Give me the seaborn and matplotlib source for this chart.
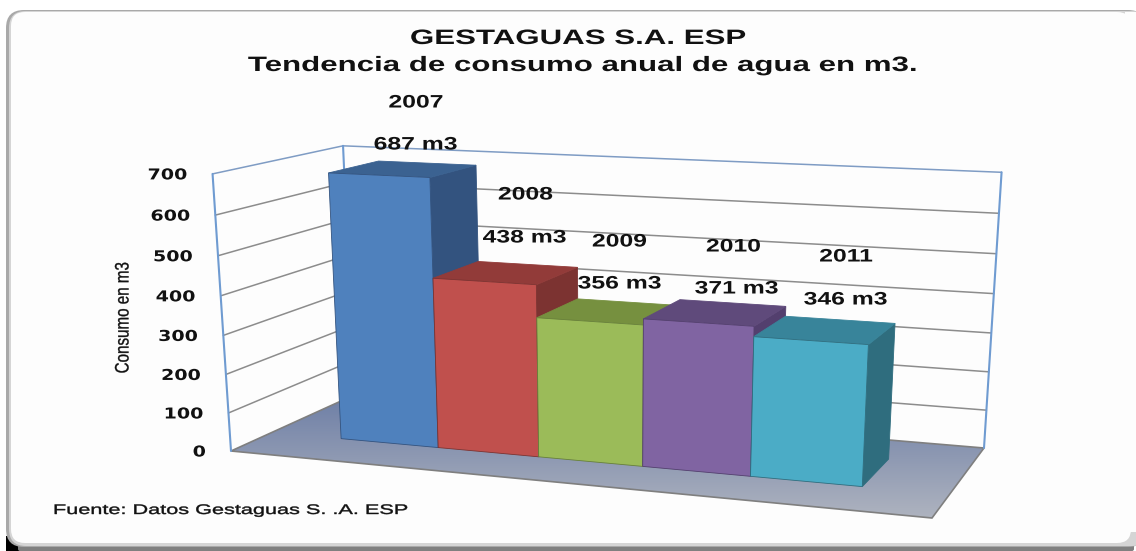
import numpy as np
import pandas as pd
import seaborn as sns
import matplotlib
matplotlib.use("Agg")
import matplotlib.pyplot as plt
from matplotlib.patches import Polygon, FancyBboxPatch, Rectangle
from matplotlib.patheffects import AbstractPathEffect
from matplotlib.transforms import Transform, Affine2D
from matplotlib.colors import LinearSegmentedColormap

# data
years = ["2007", "2008", "2009", "2010", "2011"]
consumo = [687, 438, 356, 371, 346]
ticks = [0, 100, 200, 300, 400, 500, 600, 700]

# colors for front, side and top of each bar
front_colors = ["#4f81bd", "#c0504d", "#9bbb59", "#8064a2", "#4bacc6"]
side_colors = ["#33537f", "#7c3331", "#67803a", "#533f6e", "#2f6d7e"]
top_colors = ["#3b6291", "#923b39", "#76903f", "#5f4a7b", "#38849a"]

# where the labels sit on the picture
year_pos = [(416, 103), (525.5, 195), (619.5, 242), (733.5, 247), (846, 257)]
value_pos = [(415.5, 145), (524.5, 238), (619.5, 284), (736.5, 289), (845.5, 300)]

W, H = 1136, 551

# Step 1: camera for the 3d look, fitted on (x, value, depth) -> pixel pairs
scene = [(-.5, 0, 0), (.5, 0, 0), (1.5, 0, 0), (2.5, 0, 0), (3.5, 0, 0), (4.5, 0, 0),
         (-.5, 687, 0), (.5, 687, 0), (.5, 438, 0), (1.5, 438, 0), (1.5, 356, 0), (2.5, 356, 0),
         (2.5, 371, 0), (3.5, 371, 0), (3.5, 346, 0), (4.5, 346, 0),
         (-.5, 687, 1), (.5, 687, 1), (.5, 438, 1), (1.5, 438, 1), (1.5, 356, 1),
         (3.5, 371, 1), (3.5, 346, 1), (4.5, 346, 1), (4.5, 0, 1)]
pixels = [(341, 438), (438, 448), (539, 457), (642, 466), (751, 477), (863, 487),
          (329, 172), (430, 177), (434, 279), (536, 284), (537, 318), (643, 325),
          (643, 319), (753, 327), (754, 337), (868, 344),
          (378, 161), (476, 166), (478, 262), (577, 267), (578, 299),
          (786, 307), (787, 316), (895, 323), (888, 458)]

A, b = [], []
for (x, y, z), (u, v) in zip(scene, pixels):
    y = y / 100
    A.append([x, y, z, 1, 0, 0, 0, 0, -u * x, -u * y, -u * z])
    A.append([0, 0, 0, 0, x, y, z, 1, -v * x, -v * y, -v * z])
    b += [u, v]
p = np.linalg.lstsq(np.array(A, float), np.array(b, float), rcond=None)[0]
P = np.append(p, 1).reshape(3, 4)


def project(x, y, z=0.0):
    q = P @ np.array([x, y / 100, z, 1.0])
    return q[0] / q[2], q[1] / q[2]


def floor_point(u, v):
    q = np.linalg.solve(P[:, [0, 2, 3]], np.array([u, v, 1.0]))
    return q[0] / q[2], q[1] / q[2]


class FrontPlane(Transform):
    input_dims = 2
    output_dims = 2

    def transform_non_affine(self, values):
        return np.array([project(x, y) for x, y in values])


class Stretch(AbstractPathEffect):
    # the original text is pulled wide, so scale the glyphs around the anchor
    def __init__(self, anchor, sx=1.0, sy=1.0, stroke=0.0):
        super().__init__()
        self.anchor = anchor
        self.sx = sx
        self.sy = sy
        self.stroke = stroke

    def draw_path(self, renderer, gc, tpath, affine, rgbFace=None):
        ax_, ay_ = self.anchor
        st = Affine2D().translate(-ax_, -ay_).scale(self.sx, self.sy).translate(ax_, ay_)
        gc0 = renderer.new_gc()
        gc0.copy_properties(gc)
        if self.stroke:
            gc0.set_linewidth(self.stroke)
            gc0.set_foreground(rgbFace)
        renderer.draw_path(gc0, tpath, affine + st, rgbFace)
        gc0.restore()


def put(x, y, s, sx=1.0, sy=1.0, stroke=0.0, **kw):
    kw.setdefault("color", "#111111")
    kw.setdefault("va", "center")
    kw.setdefault("ha", "center")
    kw.setdefault("zorder", 10)
    t = ax.text(x, y, s, **kw)
    t.set_path_effects([Stretch(ax.transData.transform((x, y)), sx, sy, stroke)])
    return t


# Step 2: seaborn draws the bars, then they go through the camera
sns.set_theme(style="white")
plt.rcParams["font.family"] = ["Liberation Sans", "DejaVu Sans"]

df = pd.DataFrame({"year": years, "consumo": consumo})
fig = plt.figure(figsize=(W / 100, H / 100), dpi=100, facecolor="white")
ax = fig.add_axes([0, 0, 1, 1])
sns.barplot(data=df, x="year", y="consumo", hue="year", palette=front_colors, width=1,
            saturation=1, legend=False, ax=ax)
bars = list(ax.patches)
ax.set_xlim(0, W)
ax.set_ylim(H, 0)
ax.axis("off")

# panel behind the chart
ax.add_patch(Rectangle((6, 536), 14, 15, fc="black", ec="none", zorder=0.1))
ax.add_patch(FancyBboxPatch((18, 300), 1116, 251, boxstyle="round,pad=0,rounding_size=2",
                            fc="#808080", ec="none", zorder=0.2))
ax.add_patch(FancyBboxPatch((6, 10), 1140, 537, boxstyle="round,pad=0,rounding_size=18",
                            fc="#a9a9a9", ec="none", zorder=0.3))
ax.add_patch(FancyBboxPatch((9, 11), 1140, 535, boxstyle="round,pad=0,rounding_size=17",
                            fc="#d5d5d5", ec="none", zorder=0.35))
ax.add_patch(FancyBboxPatch((11, 12), 1120, 531, boxstyle="round,pad=0,rounding_size=14",
                            fc="#fdfdfd", ec="none", zorder=0.4))
ax.add_patch(Rectangle((1125, 12), 11, 520, fc="#fdfdfd", ec="none", zorder=0.41))

# floor and walls
x_lo, z_lo = floor_point(231, 451)
x_hi, z_hi = floor_point(984, 448)
floor = [project(x_lo, 0, z_lo), project(x_lo, 0, z_hi), project(x_hi, 0, z_hi), (932, 518)]
floor_poly = Polygon(floor, closed=True, fc="none", ec="#7f7f7f", lw=1.2, zorder=1.2)
ax.add_patch(floor_poly)
cmap = LinearSegmentedColormap.from_list("floor", ["#6e7fa6", "#aeb3bf"])
img = ax.imshow(np.linspace(0, 1, 128).reshape(-1, 1), cmap=cmap, extent=(220, 1000, 518, 396),
                aspect="auto", zorder=1.1)
img.set_clip_path(floor_poly)
ax.set_xlim(0, W)
ax.set_ylim(H, 0)

top = ticks[-1]
for t in ticks[1:-1]:
    pts = [project(x_lo, t, z_lo), project(x_lo, t, z_hi), project(x_hi, t, z_hi)]
    ax.plot(*zip(*pts), color="#8c8c8c", lw=1.1, zorder=1.5)
pts = [project(x_lo, top, z_lo), project(x_lo, top, z_hi), project(x_hi, top, z_hi)]
ax.plot(*zip(*pts), color="#7f9cc4", lw=1.1, zorder=1.6)
for xw, zw in [(x_lo, z_lo), (x_lo, z_hi), (x_hi, z_hi)]:
    ax.plot(*zip(project(xw, 0, zw), project(xw, top, zw)), color="#6f9bd1", lw=1.5, zorder=1.6)

# Step 3: put the bars in perspective, left to right
plane = FrontPlane()
for i, bar in enumerate(bars):
    x0, x1, h = bar.get_x(), bar.get_x() + bar.get_width(), bar.get_height()
    z = 2 + i
    side = [project(x1, 0, 0), project(x1, 0, 1), project(x1, h, 1), project(x1, h, 0)]
    lid = [project(x0, h, 0), project(x0, h, 1), project(x1, h, 1), project(x1, h, 0)]
    ax.add_patch(Polygon(side, closed=True, fc=side_colors[i], ec=side_colors[i], lw=0.6, zorder=z))
    ax.add_patch(Polygon(lid, closed=True, fc=top_colors[i], ec=top_colors[i], lw=0.6, zorder=z + .1))
    bar.set_transform(plane + ax.transData)
    bar.set_clip_on(False)
    bar.set_edgecolor(side_colors[i])
    bar.set_linewidth(0.6)
    bar.set_zorder(z + .2)

# Step 4: texts
for t in ticks:
    u, v = project(x_lo, t, z_lo)
    put(u - 25, v + 1, str(t), sx=1.27, ha="right", fontsize=10.8, fontweight="bold", family="DejaVu Sans")
for yr, val, yp, vp in zip(years, consumo, year_pos, value_pos):
    put(*yp, yr, sx=1.37, fontsize=13, fontweight="bold")
    put(*vp, f"{val} m3", sx=1.37, fontsize=13, fontweight="bold")

put(578.5, 38.5, "GESTAGUAS S.A. ESP", sx=1.5, fontsize=15, fontweight="bold")
put(583.5, 65.5, "Tendencia de consumo anual de agua en m3.", sx=1.5, fontsize=15, fontweight="bold")
put(124, 317.5, "Consumo en m3", sy=0.78, stroke=0.25, rotation=90, fontsize=14)
put(53, 510, "Fuente: Datos Gestaguas S. .A. ESP", sx=1.56, stroke=0.3, ha="left", fontsize=10)

fig.savefig("out.png", dpi=100)
